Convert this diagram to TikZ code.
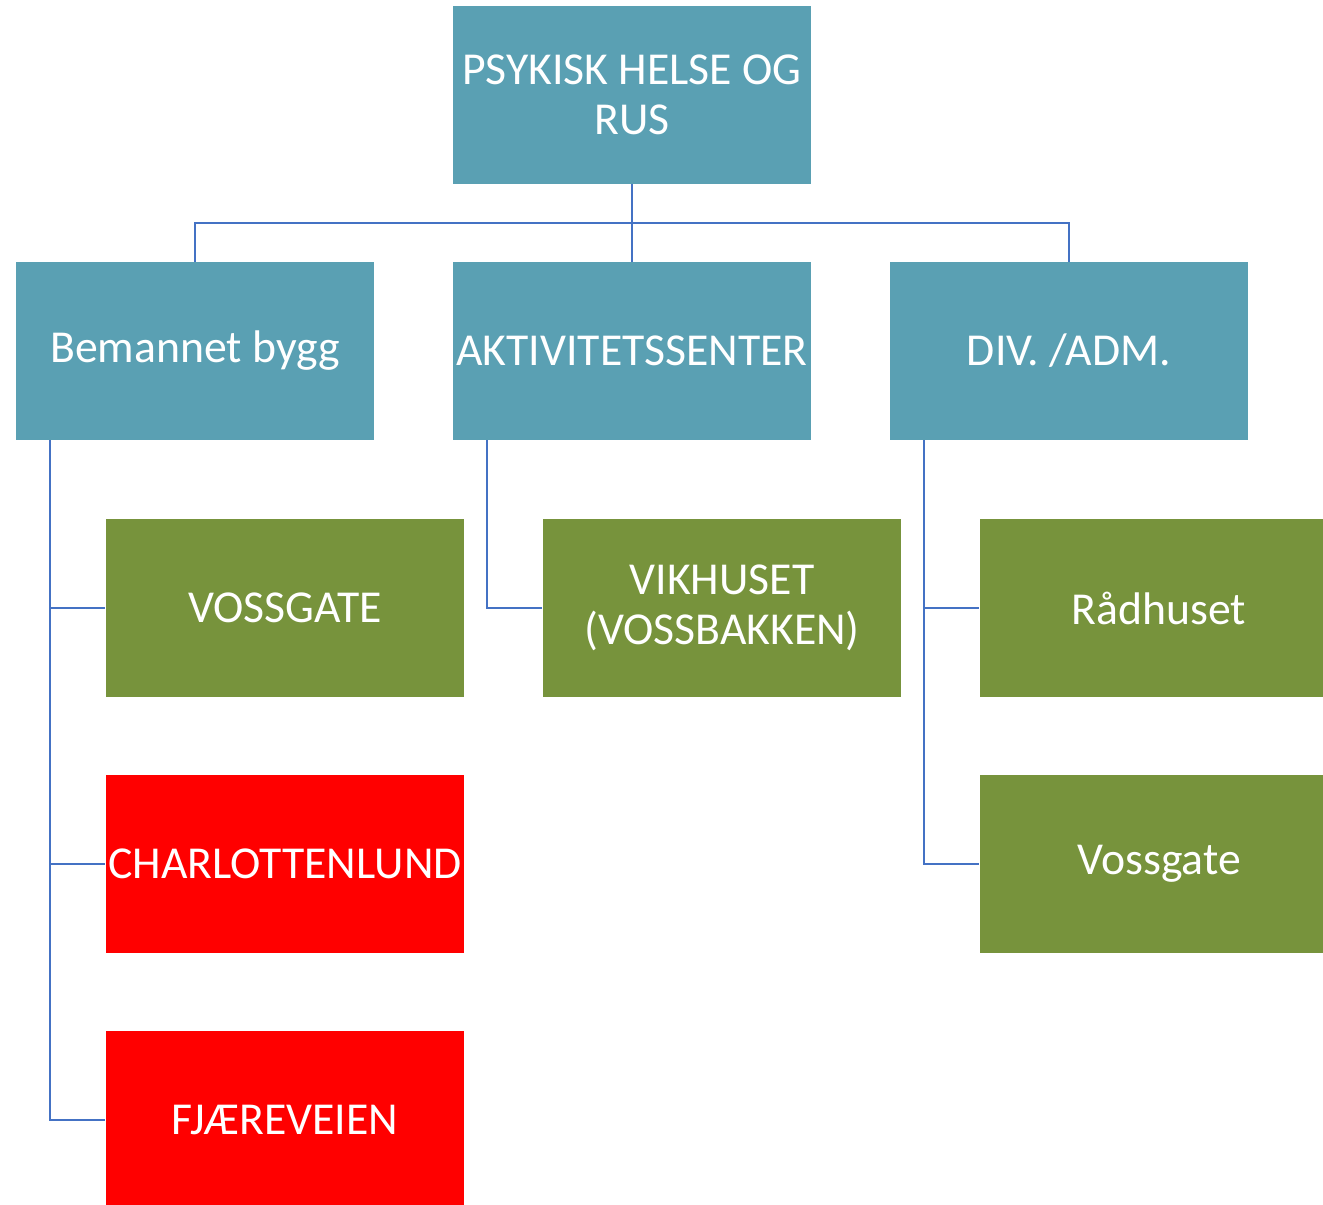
\documentclass[tikz,border=0pt]{standalone}
\usepackage{fontspec}
\setmainfont{Carlito}
\definecolor{tealbox}{HTML}{5AA0B3}
\definecolor{olivebox}{HTML}{77933C}
\definecolor{redbox}{HTML}{FF0000}
\definecolor{linkblue}{HTML}{4472C4}
\begin{document}
\begin{tikzpicture}[x=0.01cm,y=-0.01cm,
    unit/.style={minimum width=3.58cm,minimum height=1.77cm,inner sep=0pt,
      text=white,align=center,font=\fontsize{13}{14.3}\selectfont},
    head/.style={unit,fill=tealbox},
    site/.style={unit,fill=olivebox},
    closed/.style={unit,fill=redbox},
    link/.style={draw=linkblue,line width=0.8pt}]
        % Page frame (clips the boxes cut at the edges)
        \clip (0,0) rectangle (1323,1205);

        % Top level
        \node[head] (top) at (632,95) {PSYKISK HELSE OG\\RUS};

        % Second level
        \node[head] (bem) at (195,351) {Bemannet bygg};
        \node[head] (aktiv) at (632,351) {AKTIVITETSSENTER};
        \node[head] (div) at (1069,351) {DIV. /ADM.};

        % Third level
        \node[site] (voss) at (285,608) {VOSSGATE};
        \node[closed] (charl) at (285,864) {CHARLOTTENLUND};
        \node[closed] (fjaere) at (285,1120) {FJÆREVEIEN};
        \node[site] (vik) at (722,608) {VIKHUSET\\(VOSSBAKKEN)};
        \node[site] (raad) at (1159,608) {Rådhuset};
        \node[site] (vossg) at (1159,864) {Vossgate};

        % Connectors, top level
        \coordinate (hub) at (632,223);
        \draw[link] (top.south) -- (aktiv.north);
        \draw[link] (bem.north) |- (hub) -| (div.north);

        % Connectors, third level
        \coordinate (bemtap) at (50,440);
        \coordinate (aktivtap) at (487,440);
        \coordinate (divtap) at (924,440);
        \foreach \n in {voss,charl,fjaere} {
            \draw[link] (bemtap) |- (\n.west);
        }
        \draw[link] (aktivtap) |- (vik.west);
        \foreach \n in {raad,vossg} {
            \draw[link] (divtap) |- (\n.west);
        }
\end{tikzpicture}
\end{document}
